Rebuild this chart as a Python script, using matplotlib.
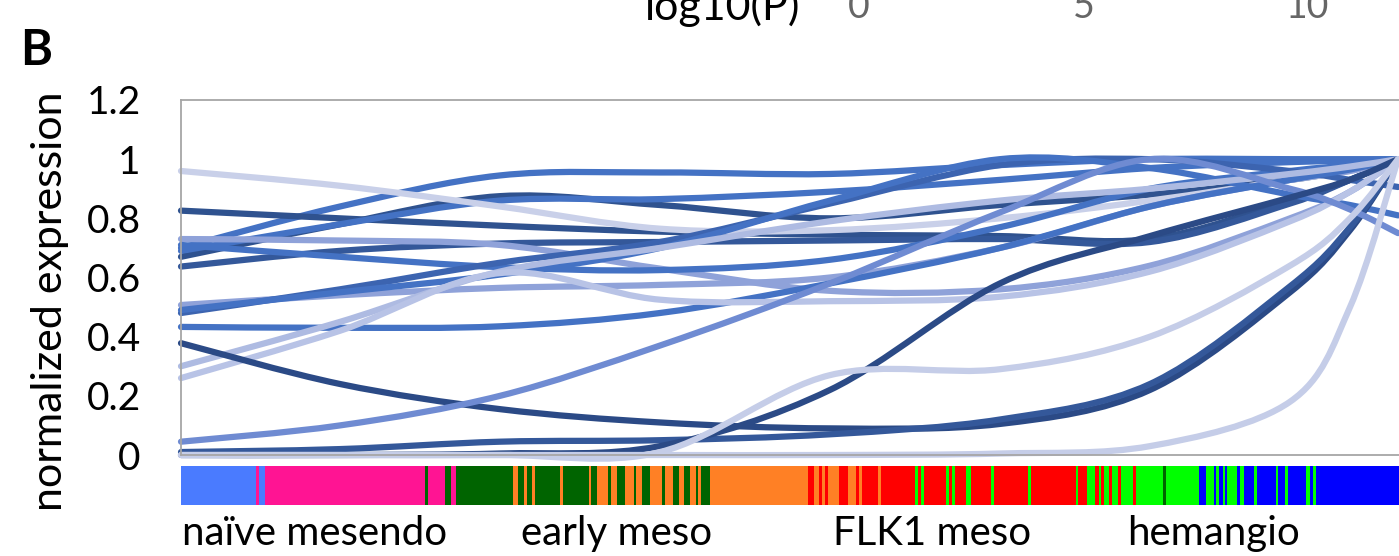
import numpy as np
import matplotlib.pyplot as plt
from matplotlib.path import Path
from matplotlib.patches import PathPatch

plt.rcParams['font.family'] = ['Lato', 'DejaVu Sans']

# pseudotime ranks (cells ordered 0..1217) at which expression is sampled
knots = [0, 159, 319, 479, 649, 819, 969, 1109, 1169, 1217]

# normalized expression per gene, with a shade of blue for each
genes = [
    ("#4472C4", [0.70, 0.84, 0.945, 0.955, 0.95, 0.98, 1.0, 1.0, 1.0, 1.0]),
    ("#2F528F", [0.67, 0.78, 0.875, 0.845, 0.80, 0.845, 0.88, 0.93, 0.965, 1.0]),
    ("#2F528F", [0.826, 0.80, 0.775, 0.755, 0.745, 0.74, 0.73, 0.86, 0.93, 1.0]),
    ("#34589A", [0.637, 0.69, 0.715, 0.72, 0.725, 0.73, 0.72, 0.85, 0.93, 1.0]),
    ("#4472C4", [0.69, 0.78, 0.86, 0.865, 0.89, 0.93, 0.97, 0.99, 0.995, 1.0]),
    ("#8FA2D9", [0.73, 0.725, 0.71, 0.63, 0.555, 0.56, 0.64, 0.80, 0.89, 1.0]),
    ("#C9D0E9", [0.96, 0.91, 0.84, 0.765, 0.76, 0.80, 0.86, 0.93, 0.96, 1.0]),
    ("#4472C4", [0.71, 0.67, 0.635, 0.625, 0.66, 0.77, 0.90, 0.96, 0.98, 1.0]),
    ("#8FA2D9", [0.507, 0.54, 0.565, 0.575, 0.60, 0.70, 0.84, 0.93, 0.96, 1.0]),
    ("#3C64B0", [0.48, 0.56, 0.65, 0.72, 0.85, 0.98, 1.0, 0.96, 0.93, 0.906]),
    ("#4472C4", [0.49, 0.55, 0.61, 0.70, 0.86, 1.0, 0.97, 0.88, 0.845, 0.81]),
    ("#4472C4", [0.433, 0.43, 0.435, 0.48, 0.58, 0.70, 0.84, 0.93, 0.965, 1.0]),
    ("#AEBBE2", [0.30, 0.45, 0.62, 0.70, 0.79, 0.86, 0.90, 0.95, 0.975, 1.0]),
    ("#B8C3E6", [0.26, 0.42, 0.615, 0.525, 0.52, 0.535, 0.62, 0.79, 0.89, 1.0]),
    ("#2B4A86", [0.378, 0.24, 0.155, 0.11, 0.09, 0.105, 0.22, 0.55, 0.76, 1.0]),
    ("#34589A", [0.01, 0.02, 0.045, 0.05, 0.07, 0.12, 0.24, 0.57, 0.77, 1.0]),
    ("#6F8BD2", [0.045, 0.10, 0.20, 0.37, 0.58, 0.82, 1.0, 0.90, 0.83, 0.75]),
    ("#2B4A86", [0.0, 0.0, 0.005, 0.03, 0.22, 0.58, 0.74, 0.87, 0.93, 1.0]),
    ("#C5CDE8", [0.0, 0.0, 0.0, 0.01, 0.27, 0.29, 0.40, 0.64, 0.80, 1.0]),
    ("#C5CDE8", [0.0, 0.0, 0.0, 0.0, 0.0, 0.005, 0.03, 0.18, 0.50, 1.0]),
]

# cell stage strip: start rank of each run and its stage code, last run ends at 1218
strip_starts = [0, 75, 78, 84, 244, 247, 264, 270, 275,
                332, 337, 343, 346, 351, 354, 379, 382, 408, 410, 416, 427, 430,
                436, 444, 453, 455, 461, 469, 481, 484, 492, 498, 503, 509, 515,
                517, 520, 529,
                627, 633, 638, 641, 644, 647, 658, 667, 675, 678, 681, 697, 700,
                734, 737, 740, 743, 765, 768, 771, 774, 785, 790, 810, 813, 847,
                850, 895, 897, 906, 914, 918, 920, 923, 928, 931, 937, 940, 952,
                955, 982, 985,
                1018, 1025, 1033, 1035, 1038, 1042, 1044, 1046, 1056, 1059, 1063,
                1073, 1076, 1095, 1097, 1104, 1107, 1125, 1129, 1132, 1135]
strip_codes = ("bpbpgpgpg"
               "ogogogogogogogogogogogogogogo"
               "rorororororor"
               "lrlrlrlrlrlrlrlrlrlrlrlrlrl"
               "gl"
               "ululululululululululu")
strip_end = 1218
stage_colors = {"b": "#4A7BFF", "p": "#FF1493", "g": "#006400", "o": "#FF8025",
                "r": "#FF0000", "l": "#00FF00", "u": "#0000FF"}

stage_labels = ["naïve mesendo", "early meso", "FLK1 meso", "hemangio"]
stage_label_pos = [134, 436, 751, 1033]

pval_ticks = ["0", "5", "10"]


def smooth_path(xs, ys):
    # Catmull-Rom through the points, written as cubic Bezier segments
    pts = np.column_stack([xs, ys]).astype(float)
    ext = np.vstack([pts[0], pts, pts[-1]])
    verts = [pts[0]]
    codes = [Path.MOVETO]
    for i in range(len(pts) - 1):
        p0, p1, p2, p3 = ext[i], ext[i + 1], ext[i + 2], ext[i + 3]
        verts += [p1 + (p2 - p0) / 6.0, p2 - (p3 - p1) / 6.0, p2]
        codes += [Path.CURVE4] * 3
    return Path(verts, codes)


W, H = 1399, 556
fig = plt.figure(figsize=(W / 100, H / 100), dpi=100)

ax = fig.add_axes([181 / W, 1 - 455 / H, (W - 181) / W, 355 / H])
for color, vals in genes:
    ax.add_patch(PathPatch(smooth_path(knots, vals), facecolor="none",
                           edgecolor=color, lw=4.5, clip_on=False,
                           capstyle="round", joinstyle="round"))
ax.set_xlim(0, strip_end)
ax.set_ylim(0, 1.2)
ax.set_xticks([])
ax.set_yticks([0, 0.2, 0.4, 0.6, 0.8, 1.0, 1.2])
ax.set_yticklabels(["0", "0.2", "0.4", "0.6", "0.8", "1", "1.2"])
ax.tick_params(axis="y", length=0, pad=29, labelsize=28, labelcolor="black")
for side in ["left", "top", "bottom"]:
    ax.spines[side].set_color("#A6A6A6")
    ax.spines[side].set_linewidth(1.3)
ax.spines["right"].set_visible(False)

sx = fig.add_axes([181 / W, 1 - 505 / H, (W - 181) / W, 39 / H])
ends = strip_starts[1:] + [strip_end]
for s, e, c in zip(strip_starts, ends, strip_codes):
    sx.axvspan(s, e, color=stage_colors[c], lw=0)
sx.set_xlim(0, strip_end)
sx.set_ylim(0, 1)
sx.set_yticks([])
sx.set_xticks(stage_label_pos)
sx.set_xticklabels(stage_labels)
sx.tick_params(axis="x", length=0, pad=7, labelsize=29)
for sp in sx.spines.values():
    sp.set_visible(False)

fig.text(50 / W, 1 - 301 / H, "normalized expression", rotation=90,
         ha="center", va="center", fontsize=31)
fig.text(20 / W, 1 - 65 / H, "B", fontsize=35, fontweight="bold",
         ha="left", va="baseline")

# cropped p-value colour key at the top
fig.text(645 / W, 1 - 20 / H, "log10(P)", fontsize=31, ha="left", va="baseline")
for lab, xp in zip(pval_ticks, [859, 1084, 1308]):
    fig.text(xp / W, 1 - 18 / H, lab, fontsize=27, color="#666666",
             ha="center", va="baseline")

fig.savefig("out.png", dpi=100)
